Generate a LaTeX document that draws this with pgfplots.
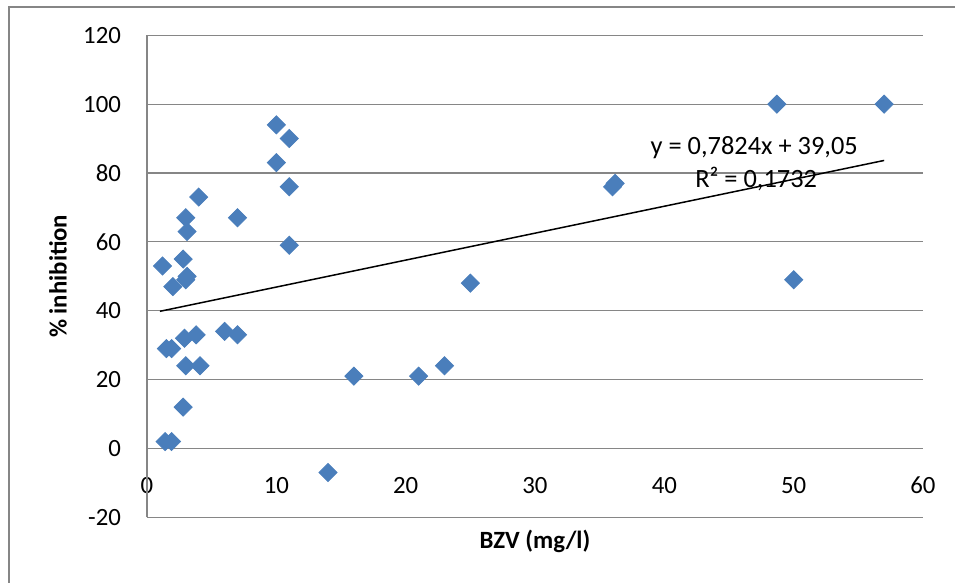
\documentclass[border=0pt]{standalone}
\usepackage{pgfplots}
\pgfplotsset{compat=1.18}
\usepackage{fontspec}
\setmainfont{Carlito}
\definecolor{mkblue}{RGB}{74,126,187}
\definecolor{gridgray}{RGB}{134,134,134}
\begin{document}
\begin{tikzpicture}[font=\fontsize{12.4}{14}\selectfont]
\useasboundingbox (-73.5pt,-32.85pt) rectangle (404pt,258.65pt);
\draw[gridgray, line width=0.75pt] (-69pt,-40pt) -- (-69pt,255.15pt) -- (420pt,255.15pt);
\begin{axis}[
  at={(0,0)}, anchor=south west,
  scale only axis, width=388pt, height=241pt,
  xmin=0, xmax=60, ymin=-20, ymax=120,
  xtick={0,10,...,60}, ytick={-20,0,...,120},
  axis line style={draw=none},
  ymajorgrids, grid style={gridgray, line width=0.6pt},
  major tick length=0pt,
  /pgf/number format/assume math mode=true,
  xticklabel style={anchor=center, yshift=16pt},
  yticklabel style={anchor=east, xshift=-9.5pt},
  xlabel={BZV (mg/l)}, ylabel={\% inhibition},
  xlabel style={at={(axis description cs:0.5,0)}, anchor=center, yshift=-12.2pt, font=\fontsize{12.4}{14}\selectfont\bfseries},
  ylabel style={at={(axis description cs:-0.1147,0.5)}, anchor=center, font=\fontsize{12.4}{14}\selectfont\bfseries},
  clip=false,
]
\draw[gridgray, line width=0.75pt] (axis cs:0,-20) -- (axis cs:0,120);
\addplot[only marks, mark=square*, mark size=3.2pt, mark options={rotate=45, fill=mkblue, draw=mkblue}] coordinates {
(10,94) (11,90) (10,83) (11,76) (4,73) (3,67) (7,67) (3.1,63) (11,59)
(1.2,53) (2.8,55) (3.1,50) (3,49) (2,47) (3.8,33) (2.9,32) (6,34) (7,33)
(1.5,29) (1.9,29) (3,24) (4.1,24) (2.8,12) (1.4,2) (1.9,2) (14,-7)
(16,21) (21,21) (23,24) (25,48) (36,76) (36.2,77) (48.7,100) (50,49) (57,100)
};
\addplot[black, line width=0.75pt] coordinates {(1,39.83) (57,83.65)};
\node[font=\fontsize{13.2}{15}\selectfont] at (axis cs:46.95,87.5) {y = 0,7824x + 39,05};
\node[font=\fontsize{13.2}{15}\selectfont] at (axis cs:47.1,78.2) {R² = 0,1732};
\end{axis}
\end{tikzpicture}
\end{document}
